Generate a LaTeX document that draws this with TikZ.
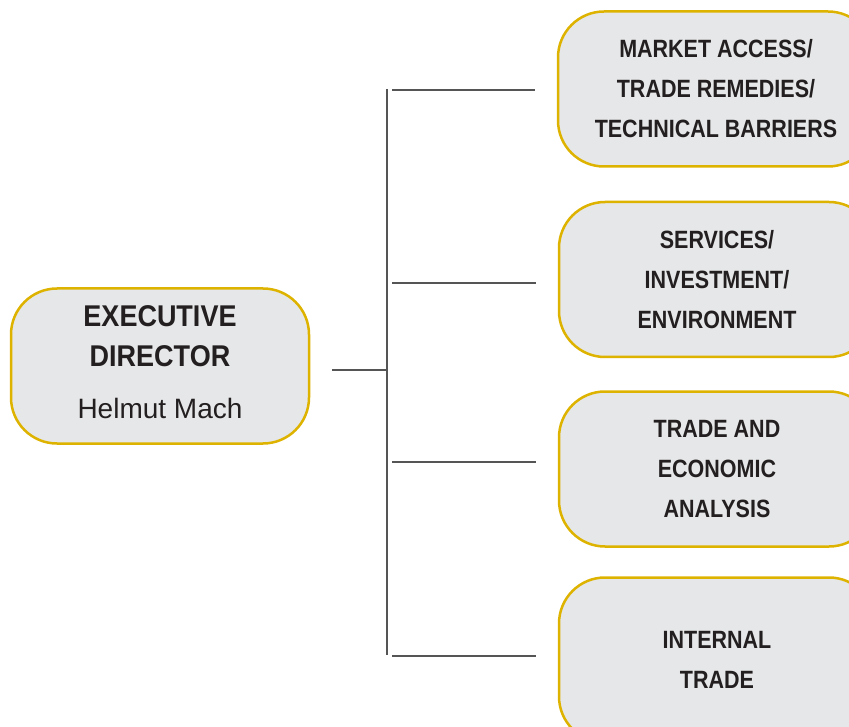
\documentclass[tikz,border=0pt]{standalone}
\usepackage{fontspec}
\setmainfont{Liberation Sans}
\newfontfamily\deptfont[FakeStretch=0.86]{Liberation Sans}
\newfontfamily\headfont[FakeStretch=0.9]{Liberation Sans}
\definecolor{boxfill}{HTML}{E6E7E8}
\definecolor{boxgold}{HTML}{DEB300}
\definecolor{linegray}{HTML}{555555}
\definecolor{inkdark}{HTML}{231F20}

\begin{document}
\begin{tikzpicture}[x=1pt,y=-1pt,
	unit/.style={rectangle, rounded corners=46pt, draw=boxgold, line width=2.5pt, fill=boxfill, minimum height=155pt, align=center, inner sep=0pt, text=inkdark},
	dept/.style={unit, minimum width=316pt, font=\deptfont\bfseries\fontsize{25}{40}\selectfont},
	wire/.style={color=linegray, line width=1.5pt}]
			
			\useasboundingbox (0,0) rectangle (849,727);
			\clip (0,0) rectangle (849,727);
			
			%
			\draw (160,366) node[name=ED, unit, minimum width=298pt] {} ;
			\draw (160,362) node[name=EDt, align=center, inner sep=0pt, text=inkdark, font=\headfont\bfseries\fontsize{30}{40}\selectfont] {EXECUTIVE\\DIRECTOR\\[12pt]{\normalfont\fontsize{28}{28}\selectfont Helmut Mach}} ;
			%
			\draw (716,89) node[name=M1, dept] {MARKET ACCESS/\\TRADE REMEDIES/\\TECHNICAL BARRIERS} ;
			\draw (717,279.5) node[name=M2, dept] {SERVICES/\\INVESTMENT/\\ENVIRONMENT} ;
			\draw (717,469) node[name=M3, dept] {TRADE AND\\ECONOMIC\\ANALYSIS} ;
			\draw (717,660) node[name=M4, dept, minimum height=165pt] {INTERNAL\\TRADE} ;
			%
			\coordinate (busT) at (387,89);
			\coordinate (busB) at (387,655);
			\coordinate (busM) at (387,370);
			\coordinate (b1) at (392,90);
			\coordinate (b2) at (392,283);
			\coordinate (b3) at (392,462);
			\coordinate (b4) at (392,656);
			%
			\draw[wire] (busT) -- (busB);
			\draw[wire, shorten <=22pt] (ED.east |- busM) -- (busM);
			%
			\draw[wire, shorten >=22pt] (b1) -- (b1 -| M1.west);
			\draw[wire, shorten >=22pt] (b2) -- (b2 -| M2.west);
			\draw[wire, shorten >=22pt] (b3) -- (b3 -| M3.west);
			\draw[wire, shorten >=22pt] (b4) -- (b4 -| M4.west);
			
			\end{tikzpicture}
\end{document}
